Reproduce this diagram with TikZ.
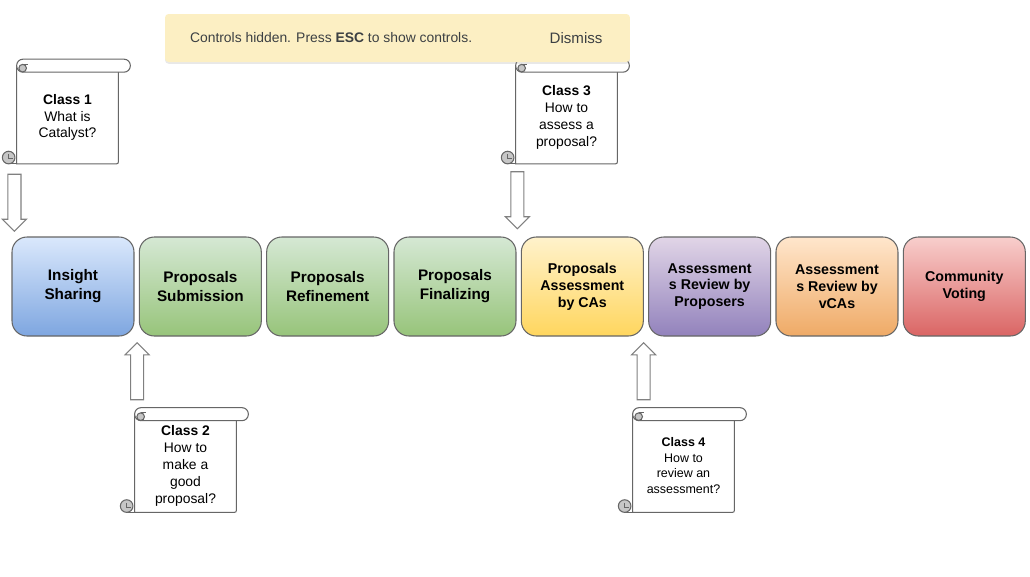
\documentclass[tikz,border=0pt]{standalone}
\usepackage{fontspec}
\setmainfont{Liberation Sans}
\usetikzlibrary{positioning,calc,shapes.arrows,shadows,backgrounds}

\definecolor{lineGray}{HTML}{666666}
\definecolor{arrowGray}{HTML}{808080}
\definecolor{curlGray}{HTML}{C6C6C6}
\definecolor{blueTop}{HTML}{DAE8FC}
\definecolor{blueBot}{HTML}{7EA6E0}
\definecolor{greenTop}{HTML}{D5E8D4}
\definecolor{greenBot}{HTML}{97C47A}
\definecolor{yellowTop}{HTML}{FFF2CC}
\definecolor{yellowBot}{HTML}{FFD65E}
\definecolor{purpleTop}{HTML}{E1D5E7}
\definecolor{purpleBot}{HTML}{9282BC}
\definecolor{orangeTop}{HTML}{FFE6CC}
\definecolor{orangeBot}{HTML}{EFAA66}
\definecolor{redTop}{HTML}{F8CECC}
\definecolor{redBot}{HTML}{DA6564}
\definecolor{bannerFill}{HTML}{FCEFC3}
\definecolor{bannerText}{HTML}{3C4043}

\tikzset{
  stage/.style={
    rectangle,
    rounded corners=8.5pt,
    draw=lineGray, line width=0.6pt,
    minimum width=2.44cm,
    minimum height=1.98cm,
    inner sep=0pt,
    align=center},
  big stage/.style={stage, font=\bfseries\fontsize{8.7}{10.8}\selectfont},
  small stage/.style={stage, font=\bfseries\fontsize{8.1}{9.6}\selectfont},
  shade blue/.style={top color=blueTop, bottom color=blueBot},
  shade green/.style={top color=greenTop, bottom color=greenBot},
  shade yellow/.style={top color=yellowTop, bottom color=yellowBot},
  shade purple/.style={top color=purpleTop, bottom color=purpleBot},
  shade orange/.style={top color=orangeTop, bottom color=orangeBot},
  shade red/.style={top color=redTop, bottom color=redBot},
  scroll body/.style={
    minimum width=2.02cm,
    minimum height=1.96cm,
    inner sep=0pt},
  scroll text/.style={
    inner sep=0pt,
    align=center,
    font=\fontsize{7.9}{9.6}\selectfont},
  scroll line/.style={draw=lineGray, line width=0.6pt},
  block arrow/.style={
    single arrow,
    draw=arrowGray, fill=white, line width=0.6pt,
    minimum height=1.14cm,
    minimum width=0.46cm,
    single arrow head extend=0.11cm,
    inner sep=0.12cm},
}

\begin{document}
\begin{tikzpicture}[
    x=0.02cm, y=-0.02cm,
    node distance=0.086cm,
    banner/.style={rectangle, fill=bannerFill, rounded corners=2pt,
      minimum width=9.3cm, minimum height=0.96cm,
      drop shadow={opacity=0.18, shadow xshift=0pt, shadow yshift=-1pt}},
    banner text/.style={text=bannerText, inner sep=0pt,
      font=\fontsize{7.9}{9.5}\selectfont}
    ]
    \useasboundingbox (0,0) rectangle (1030,576);

    % stages
    \node[big stage, shade blue] (insight) at (73,286.5) {Insight\\Sharing};
    \node[big stage, shade green, right=of insight] (submission) {Proposals\\Submission};
    \node[big stage, shade green, right=of submission] (refinement) {Proposals\\Refinement};
    \node[big stage, shade green, right=of refinement] (finalizing) {Proposals\\Finalizing};
    \node[small stage, shade yellow, right=of finalizing] (assessment) {Proposals\\Assessment\\by CAs};
    \node[small stage, shade purple, right=of assessment] (review) {Assessment\\s Review by\\Proposers};
    \node[small stage, shade orange, right=of review] (vcareview) {Assessment\\s Review by\\vCAs};
    \node[small stage, shade red, right=of vcareview] (voting) {Community\\Voting};

    % scrolls
    \node[scroll body] (scroll1) at (67.5,114.5) {};
    \node[scroll body] (scroll3) at (566.5,114.5) {};
    \node[scroll body] (scroll2) at (185.5,463) {};
    \node[scroll body] (scroll4) at (683.5,463) {};
    \foreach \c in {scroll1,scroll2,scroll3,scroll4}{
      % body
      \draw[scroll line, fill=white] (\c.north west) -- (\c.south west)
        -- ($(\c.south east)+(-4,0)$) .. controls (\c.south east) .. ($(\c.south east)+(0,-4)$)
        -- (\c.north east);
      % top roll
      \draw[scroll line, fill=white, rounded corners=3.6pt]
        ($(\c.north west)+(0,-6)$) rectangle ($(\c.north east)+(12,7)$);
      \draw[scroll line, fill=curlGray] ($(\c.north west)+(6,3)$) circle (3.8);
      \draw[scroll line] ($(\c.north west)+(6,-0.8)$) -- ($(\c.north west)+(11,-0.8)$);
      % bottom curl
      \draw[scroll line] ($(\c.south west)+(-8,0)$) -- (\c.south west);
      \draw[scroll line, fill=curlGray] ($(\c.south west)+(-8,-6.3)$) circle (6.3);
      \draw[scroll line] ($(\c.south west)+(-8,-9.5)$) -- ($(\c.south west)+(-8,-5)$)
        -- ($(\c.south west)+(-3.5,-5)$);
    }

    % class texts
    \node[scroll text] (class1) at ($(scroll1)+(0,3)$) {\textbf{Class 1}\\What is\\Catalyst?};
    \node[scroll text] (class3) at ($(scroll3)+(0,3)$) {\textbf{Class 3}\\How to\\assess a\\proposal?};
    \node[scroll text] (class2) at ($(scroll2)+(0,3)$) {\textbf{Class 2}\\How to\\make a\\good\\proposal?};
    \node[scroll text, font=\fontsize{7.1}{8.9}\selectfont] (class4) at ($(scroll4)+(0,2.5)$)
      {\textbf{Class 4}\\How to\\review an\\assessment?};

    % arrows
    \node[block arrow, shape border rotate=270] (down1) at ($(insight.north west)+(3,-37)$) {};
    \node[block arrow, shape border rotate=270] (down3) at ($(assessment.north west)+(-3.5,-39.5)$) {};
    \node[block arrow, shape border rotate=90] (up2) at ($(submission.south west)+(-1.7,38)$) {};
    \node[block arrow, shape border rotate=90] (up4) at ($(review.south west)+(-4.5,38)$) {};

    % banner
    \node[banner] (notice) at (397.5,38) {};
    \node[banner text, anchor=west] (hint) at ($(notice.west)+(25,0)$)
      {Controls hidden. Press \textbf{ESC} to show controls.};
    \node[banner text, anchor=west, font=\fontsize{8.6}{10}\selectfont] (dismiss)
      at ($(notice.east)+(-81,0)$) {Dismiss};

\end{tikzpicture}
\end{document}
